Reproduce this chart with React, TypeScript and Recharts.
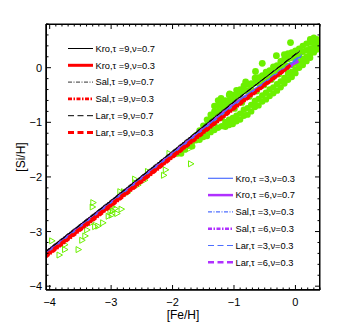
import React from 'react'
import { ComposedChart, Scatter, XAxis, YAxis, Legend, ReferenceArea } from 'recharts'

const FONT = '"Liberation Sans", Arial, Helvetica, sans-serif'
const GREEN = '#6cf000'

const CHART_W = 354
const CHART_H = 327
const MARGIN = { top: 24, right: 34, bottom: 0, left: 0 }
const AXIS_W = 46
const AXIS_H = 37
const PLOT_TOP = MARGIN.top
const PLOT_RIGHT = CHART_W - MARGIN.right
const PLOT_LEFT = MARGIN.left + AXIS_W
const PLOT_BOTTOM = CHART_H - MARGIN.bottom - AXIS_H

// observed stars, [Fe/H] vs [Si/H]
const starsTri: [number, number][] = [
  [-3.96, -3.17], [-3.75, -3.24], [-3.75, -3.33], [-3.84, -3.43], [-3.53, -3.33],
  [-3.47, -3.16], [-3.42, -3.08], [-3.39, -2.97], [-3.32, -2.84], [-3.3, -2.55],
  [-3.29, -2.47], [-3.26, -2.91], [-3.21, -2.9], [-3.13, -2.84], [-3.04, -2.72],
  [-3.01, -2.64], [-2.98, -2.55], [-2.93, -2.58], [-2.9, -2.67], [-2.83, -2.59],
  [-2.82, -2.33], [-2.85, -2.27], [-2.79, -2.27], [-2.73, -2.29], [-2.61, -2.04],
  [-2.6, -2.11], [-2.45, -2.06], [-2.4, -1.9], [-2.14, -1.97], [-2.11, -1.87],
  [-2.05, -1.57], [-1.72, -1.48], [-1.7, -1.76], [-2.56, -2.15], [-2.97, -2.62],
  [-2.99, -2.7],
]

const starsCloud: [number, number][] = [
  [-1.92, -1.57], [-1.86, -1.49], [-1.86, -1.57], [-1.8, -1.42], [-1.8, -1.5],
  [-1.74, -1.36], [-1.74, -1.43], [-1.68, -1.35], [-1.68, -1.44], [-1.62, -1.24],
  [-1.62, -1.33], [-1.56, -1.15], [-1.56, -1.22], [-1.56, -1.32], [-1.5, -1.06],
  [-1.5, -1.15], [-1.5, -1.27], [-1.44, -0.95], [-1.44, -1.05], [-1.44, -1.17],
  [-1.44, -1.25], [-1.38, -0.86], [-1.38, -0.96], [-1.38, -1.07], [-1.38, -1.18],
  [-1.32, -0.7], [-1.32, -0.8], [-1.32, -0.9], [-1.32, -1.02], [-1.32, -1.14],
  [-1.26, -0.6], [-1.26, -0.7], [-1.26, -0.81], [-1.26, -0.93], [-1.26, -1.1],
  [-1.2, -0.6], [-1.2, -0.7], [-1.2, -0.8], [-1.2, -0.92], [-1.2, -1.07],
  [-1.14, -0.6], [-1.14, -0.7], [-1.14, -0.81], [-1.14, -1.0], [-1.14, -1.08],
  [-1.08, -0.5], [-1.08, -0.6], [-1.08, -0.7], [-1.08, -0.95], [-1.08, -1.05],
  [-1.02, -0.5], [-1.02, -0.61], [-1.02, -0.92], [-1.02, -1.03],
  [-0.96, -0.41], [-0.96, -0.5], [-0.96, -0.6], [-0.96, -0.88], [-0.96, -0.98],
  [-0.9, -0.4], [-0.9, -0.5], [-0.9, -0.84], [-0.9, -0.95],
  [-0.84, -0.33], [-0.84, -0.43], [-0.84, -0.77], [-0.84, -0.88],
  [-0.78, -0.31], [-0.78, -0.42], [-0.78, -0.74], [-0.78, -0.86],
  [-0.72, -0.29], [-0.72, -0.39], [-0.72, -0.68], [-0.72, -0.8],
  [-0.66, -0.19], [-0.66, -0.28], [-0.66, -0.61], [-0.66, -0.72],
  [-0.6, -0.18], [-0.6, -0.28], [-0.6, -0.57], [-0.6, -0.69],
  [-0.54, -0.14], [-0.54, -0.24], [-0.54, -0.51], [-0.54, -0.62],
  [-0.48, -0.08], [-0.48, -0.18], [-0.48, -0.46], [-0.48, -0.58],
  [-0.42, -0.05], [-0.42, -0.15], [-0.42, -0.4], [-0.42, -0.52],
  [-0.36, 0.02], [-0.36, -0.08], [-0.36, -0.36], [-0.36, -0.47],
  [-0.3, 0.04], [-0.3, -0.06], [-0.3, -0.3], [-0.3, -0.42],
  [-0.24, 0.12], [-0.24, 0.02], [-0.24, -0.25], [-0.24, -0.36],
  [-0.18, 0.16], [-0.18, 0.07], [-0.18, -0.19], [-0.18, -0.29],
  [-0.12, 0.26], [-0.12, 0.16], [-0.12, 0.03], [-0.12, -0.11], [-0.12, -0.22],
  [-0.06, 0.28], [-0.06, 0.18], [-0.06, 0.05], [-0.06, -0.08], [-0.06, -0.17],
  [0, 0.31], [0, 0.2], [0, 0.08], [0, -0.03], [0, -0.1],
  [0.06, 0.35], [0.06, 0.23], [0.06, 0.11], [0.06, 0.0],
  [0.12, 0.4], [0.12, 0.29], [0.12, 0.16], [0.12, 0.05],
  [0.18, 0.44], [0.18, 0.32], [0.18, 0.2], [0.18, 0.12],
  [0.24, 0.52], [0.24, 0.46], [0.24, 0.35], [0.24, 0.25], [0.24, 0.18],
  [0.3, 0.55], [0.3, 0.47], [0.3, 0.37], [0.3, 0.28],
  [0.35, 0.52], [0.35, 0.42], [0.35, 0.33], [0.38, 0.47], [0.38, 0.38],
  [-0.99, -0.75], [-0.87, -0.64], [-0.75, -0.53], [-0.63, -0.43], [-0.51, -0.32],
  [-0.39, -0.22], [-0.27, -0.12], [-0.15, -0.02],
]

const starsDots: [number, number][] = [
  [-0.08, 0.46], [-0.31, 0.22], [-0.18, 0.24], [-0.54, 0.08], [-0.65, -0.07],
  [-0.81, -0.26], [-1.07, -0.48], [-0.75, -0.47], [-1.21, -0.56],
]

// chemical evolution models
const kro9v07: [number, number][] = [[-4.06, -3.36], [-3, -2.43], [-2, -1.53], [-1, -0.62], [0.06, 0.29]]
const kro9v03: [number, number][] = [[-4.06, -3.45], [-3, -2.52], [-2, -1.63], [-1, -0.74], [-0.1, 0.02]]
const sal9v07: [number, number][] = [[-4.06, -3.35], [-3, -2.42], [-2, -1.52], [-1, -0.61], [0.07, 0.3]]
const sal9v03: [number, number][] = [[-4.06, -3.47], [-3, -2.54], [-2, -1.65], [-1, -0.76], [-0.12, -0.01]]
const lar9v07: [number, number][] = [[-4.06, -3.37], [-3, -2.44], [-2, -1.54], [-1, -0.63], [0.065, 0.31]]
const lar9v03: [number, number][] = [[-4.06, -3.43], [-3, -2.5], [-2, -1.61], [-1, -0.72], [-0.08, 0.05]]
const kro3v03: [number, number][] = [[-4.06, -3.4], [-3, -2.47], [-2, -1.58], [-1, -0.68], [0.1, 0.22]]
const kro6v07: [number, number][] = [[-4.06, -3.38], [-3, -2.45], [-2, -1.56], [-1, -0.66], [0.04, 0.13]]
const sal3v03: [number, number][] = [[-4.06, -3.41], [-3, -2.48], [-2, -1.59], [-1, -0.69], [0.09, 0.2]]
const sal6v03: [number, number][] = [[-4.06, -3.39], [-3, -2.46], [-2, -1.57], [-1, -0.67], [0.03, 0.11]]
const lar3v03: [number, number][] = [[-4.06, -3.4], [-3, -2.46], [-2, -1.57], [-1, -0.67], [0.1, 0.24]]
const lar6v03: [number, number][] = [[-4.06, -3.39], [-3, -2.47], [-2, -1.58], [-1, -0.68], [0.05, 0.12]]

const xTicks = [
  -4, -3.9, -3.8, -3.7, -3.6, -3.5, -3.4, -3.3, -3.2, -3.1,
  -3, -2.9, -2.8, -2.7, -2.6, -2.5, -2.4, -2.3, -2.2, -2.1,
  -2, -1.9, -1.8, -1.7, -1.6, -1.5, -1.4, -1.3, -1.2, -1.1,
  -1, -0.9, -0.8, -0.7, -0.6, -0.5, -0.4, -0.3, -0.2, -0.1,
  0, 0.1, 0.2, 0.3, 0.4,
]
const yTicks = [
  -4, -3.8, -3.6, -3.4, -3.2, -3, -2.8, -2.6, -2.4, -2.2,
  -2, -1.8, -1.6, -1.4, -1.2, -1, -0.8, -0.6, -0.4, -0.2,
  0, 0.2, 0.4, 0.6, 0.8,
]

const X_DOMAIN: [number, number] = [-4.06, 0.4]
const Y_DOMAIN: [number, number] = [-4.07, 0.8]

const toPts = (arr: [number, number][]) => arr.map(([x, y]) => ({ x, y }))

const MODELS = [
  { name: 'Kro,τ =9,ν=0.7', pts: kro9v07, color: '#000000', width: 1, dash: undefined },
  { name: 'Kro,τ =9,ν=0.3', pts: kro9v03, color: '#ff0000', width: 3, dash: undefined },
  { name: 'Sal,τ =9,ν=0.7', pts: sal9v07, color: '#333333', width: 1, dash: '4 1.5 1 1.5' },
  { name: 'Sal,τ =9,ν=0.3', pts: sal9v03, color: '#ff0000', width: 2.6, dash: '4 1.5 1.5 1.5' },
  { name: 'Lar,τ =9,ν=0.7', pts: lar9v07, color: '#000000', width: 1, dash: '6 3.5' },
  { name: 'Lar,τ =9,ν=0.3', pts: lar9v03, color: '#ff0000', width: 3, dash: '6 3.5' },
  { name: 'Kro,τ =3,ν=0.3', pts: kro3v03, color: '#4d6eff', width: 1.2, dash: undefined },
  { name: 'Kro,τ =6,ν=0.7', pts: kro6v07, color: '#b030ff', width: 2.5, dash: undefined },
  { name: 'Sal,τ =3,ν=0.3', pts: sal3v03, color: '#4d6eff', width: 1.2, dash: '4 1.5 1 1.5' },
  { name: 'Sal,τ =6,ν=0.3', pts: sal6v03, color: '#b030ff', width: 2.5, dash: '4 1.5 1.5 1.5' },
  { name: 'Lar,τ =3,ν=0.3', pts: lar3v03, color: '#4d6eff', width: 1.2, dash: '6 3.5' },
  { name: 'Lar,τ =6,ν=0.3', pts: lar6v03, color: '#b030ff', width: 2.5, dash: '6 3.5' },
]
// purple/blue under, then red, black on top
const DRAW_ORDER = [7, 9, 11, 6, 8, 10, 1, 3, 5, 0, 2, 4]

const isMajor = (v: number) => Math.abs(v - Math.round(v)) < 1e-6
const fmt = (v: number) => {
  const n = Math.round(v)
  return n < 0 ? '\u2212' + Math.abs(n) : String(n)
}

// ticks point inward; the bottom/left renderers also mirror them on top/right
function AxisTick({ x, y, payload, side }: any) {
  const v = payload.value
  const major = isMajor(v)
  const len = major ? 5 : 2.5
  if (side === 'bottom') {
    return (
      <g>
        <line x1={x} x2={x} y1={y} y2={y - len} stroke="#000" />
        <line x1={x} x2={x} y1={PLOT_TOP} y2={PLOT_TOP + len} stroke="#000" />
        {major && (
          <text x={x} y={y + 15.5} textAnchor="middle" fontSize={11} fontFamily={FONT} fill="#000">
            {fmt(v)}
          </text>
        )}
      </g>
    )
  }
  return (
    <g>
      <line x1={x} x2={x + len} y1={y} y2={y} stroke="#000" />
      <line x1={PLOT_RIGHT} x2={PLOT_RIGHT - len} y1={y} y2={y} stroke="#000" />
      {major && (
        <text x={x - 4} y={y + 4} textAnchor="end" fontSize={11} fontFamily={FONT} fill="#000">
          {fmt(v)}
        </text>
      )}
    </g>
  )
}

function XTitle(props: any) {
  const vb = props.viewBox || { x: 46, y: 290, width: 274, height: 37 }
  return (
    <text x={vb.x + vb.width / 2} y={vb.y + 29} textAnchor="middle" fontSize={12} fontFamily={FONT} fill="#000">
      [Fe/H]
    </text>
  )
}

function YTitle(props: any) {
  const vb = props.viewBox || { x: 0, y: 24, width: 46, height: 266 }
  const cx = vb.x + 25
  const cy = vb.y + vb.height / 2
  return (
    <text x={cx} y={cy} transform={`rotate(-90 ${cx} ${cy})`} textAnchor="middle" fontSize={12} fontFamily={FONT} fill="#000">
      [Si/H]
    </text>
  )
}

function LegendBoxes() {
  return (
    <svg width={CHART_W} height={CHART_H} style={{ display: 'block', overflow: 'visible' }}>
      <rect
        x={PLOT_LEFT + 0.5}
        y={PLOT_TOP + 0.5}
        width={PLOT_RIGHT - PLOT_LEFT - 1}
        height={PLOT_BOTTOM - PLOT_TOP - 1}
        fill="none"
        stroke="#000"
        strokeWidth={1}
      />
      {MODELS.map((m, i) => {
        const second = i >= 6
        const x0 = second ? 208 : 68
        const y = (second ? 178.3 : 48.5) + (i % 6) * 16.8
        return (
          <g key={m.name}>
            <line x1={x0} x2={x0 + 25} y1={y} y2={y} stroke={m.color} strokeWidth={m.width} strokeDasharray={m.dash} />
            <text x={x0 + 27.5} y={y + 3.3} fontSize={9.3} fontFamily={FONT} fill="#000">
              {m.name}
            </text>
          </g>
        )
      })}
    </svg>
  )
}

function Triangle({ cx, cy }: any) {
  return (
    <polygon
      points={`${cx - 2.5},${cy - 3} ${cx + 3},${cy} ${cx - 2.5},${cy + 3}`}
      fill="none"
      stroke={GREEN}
      strokeWidth={1}
    />
  )
}

function Blob({ cx, cy }: any) {
  return <circle cx={cx} cy={cy} r={3.2} fill={GREEN} />
}

function Dot({ cx, cy }: any) {
  return <circle cx={cx} cy={cy} r={3.4} fill={GREEN} />
}

const NoMark = () => <g />

export default function App() {
  return (
    <div style={{ position: 'absolute', left: 0, top: 0, background: '#fff', width: CHART_W, height: CHART_H }}>
      <ComposedChart width={CHART_W} height={CHART_H} margin={MARGIN}>
        <XAxis
          type="number"
          dataKey="x"
          domain={X_DOMAIN}
          allowDataOverflow
          ticks={xTicks}
          interval={0}
          height={AXIS_H}
          tickSize={0}
          tickMargin={0}
          tick={(p: any) => <AxisTick {...p} side="bottom" />}
          axisLine={{ stroke: '#000' }}
          label={{ content: (p: any) => <XTitle {...p} /> }}
        />
        <YAxis
          type="number"
          dataKey="y"
          domain={Y_DOMAIN}
          allowDataOverflow
          ticks={yTicks}
          interval={0}
          width={AXIS_W}
          tickSize={0}
          tickMargin={0}
          tick={(p: any) => <AxisTick {...p} side="left" />}
          axisLine={{ stroke: '#000' }}
          label={{ content: (p: any) => <YTitle {...p} /> }}
        />
        <ReferenceArea x1={X_DOMAIN[0]} x2={X_DOMAIN[1]} y1={Y_DOMAIN[0]} y2={Y_DOMAIN[1]} fill="none" stroke="#000" ifOverflow="visible" />
        <Legend
          layout="horizontal"
          verticalAlign="middle"
          align="center"
          wrapperStyle={{ left: 0, top: 0, width: CHART_W, height: CHART_H, margin: 0 }}
          content={() => <LegendBoxes />}
        />
        <Scatter data={toPts(starsCloud)} dataKey="y" shape={(p: any) => <Blob {...p} />} isAnimationActive={false} />
        <Scatter data={toPts(starsDots)} dataKey="y" shape={(p: any) => <Dot {...p} />} isAnimationActive={false} />
        <Scatter data={toPts(starsTri)} dataKey="y" shape={(p: any) => <Triangle {...p} />} isAnimationActive={false} />
        {DRAW_ORDER.map((i) => {
          const m = MODELS[i]
          return (
            <Scatter
              key={m.name}
              name={m.name}
              data={toPts(m.pts)}
              dataKey="y"
              fill={m.color}
              line={{ stroke: m.color, strokeWidth: m.width, strokeDasharray: m.dash }}
              lineType="joint"
              shape={NoMark}
              isAnimationActive={false}
            />
          )
        })}
      </ComposedChart>
    </div>
  )
}
